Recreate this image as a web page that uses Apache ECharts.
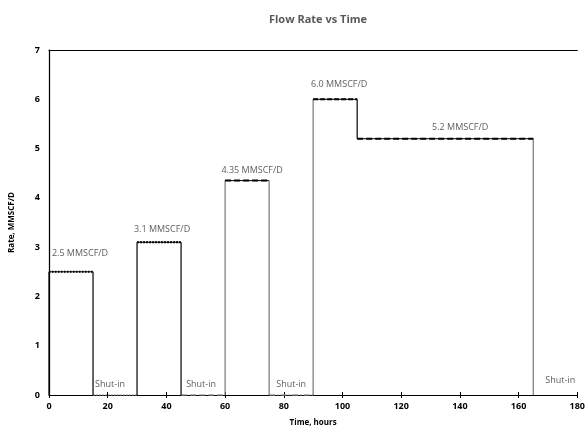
<!DOCTYPE html>
<html>
<head>
<meta charset="utf-8">
<script src="https://cdn.jsdelivr.net/npm/echarts@6/dist/echarts.min.js"></script>
<style>html,body{margin:0;padding:0;background:#fff}#c{width:588px;height:436px}</style>
</head>
<body>
<div id="c"></div>
<script>
// Flow periods (hours) and rates (MMSCF/D)
const flowStart = [0, 30, 60, 90, 105];
const flowEnd = [15, 45, 75, 105, 165];
const flowRate = [2.5, 3.1, 4.35, 6.0, 5.2];
const flowLabels = ['2.5 MMSCF/D', '3.1 MMSCF/D', '4.35 MMSCF/D', '6.0 MMSCF/D', '5.2 MMSCF/D'];
// Shut-in periods (hours)
const shutStart = [15, 45, 75, 165];
const shutEnd = [30, 60, 90, 180];
const shutLabel = 'Shut-in';
const xTicks = [0, 20, 40, 60, 80, 100, 120, 140, 160, 180];
const yTicks = [0, 1, 2, 3, 4, 5, 6, 7];

const font = 'Open Sans';
const series = [];
// styling per flow period
const topDash = [[1.5, 1.5], [2, 1], [6, 3], [5, 2], [6, 3]];
const leftVColor = ['#000', '#000', '#777', '#777', '#000'];
const rightVColor = ['#000', '#000', '#777', '#000', '#777'];
const flowLabelOffset = [[9, 0], [3, 0], [5, 0], [4, 0], [15, 0]];
const flowLabelDist = [14, 8, 6, 10, 7];
const shutLabelOffset = [[-5, 0], [-2, 0], [0, 0], [5, 0]];
const shutLabelDist = [6, 6, 6, 10];

for (let i = 0; i < flowRate.length; i++) {
  const s = flowStart[i], e = flowEnd[i], r = flowRate[i];
  const prev = i > 0 && flowEnd[i - 1] === s ? flowRate[i - 1] : 0;
  const joinsNext = i < flowRate.length - 1 && flowStart[i + 1] === e;
  series.push({type: 'line', data: [[s, prev], [s, r]], symbol: 'none', silent: true, clip: false,
    lineStyle: {color: leftVColor[i], width: 1.2}, z: 3});
  series.push({type: 'line', data: [[s, r], [e, r]], symbol: 'none', silent: true, clip: false,
    lineStyle: {color: '#000', width: 1}, z: 3});
  series.push({type: 'line', data: [[s, r], [e, r]], symbol: 'none', silent: true, clip: false,
    lineStyle: {color: '#000', width: 2, type: topDash[i]}, z: 4});
  if (!joinsNext) {
    series.push({type: 'line', data: [[e, r], [e, 0]], symbol: 'none', silent: true, clip: false,
      lineStyle: {color: rightVColor[i], width: 1.2}, z: 3});
  }
}
// shut-in baseline dashes
const shutDash = [[1.5, 1.5], [6, 3], [6, 2, 1.5, 2], null];
for (let i = 0; i < shutStart.length; i++) {
  if (!shutDash[i]) continue;
  series.push({type: 'line', data: [[shutStart[i], 0], [shutEnd[i], 0]], symbol: 'none', silent: true,
    lineStyle: {color: '#999', width: 1.5, type: shutDash[i]}, z: 1});
}
// flow labels
series.push({type: 'scatter', symbolSize: 0, silent: true, z: 5,
  data: flowRate.map((r, i) => ({value: [(flowStart[i] + flowEnd[i]) / 2, r], name: flowLabels[i],
    label: {offset: flowLabelOffset[i], distance: flowLabelDist[i]}})),
  label: {show: true, position: 'top', formatter: p => p.name,
    color: '#333', fontSize: 9, fontFamily: font}
});
// shut-in labels
series.push({type: 'scatter', symbolSize: 0, silent: true, z: 5,
  data: shutStart.map((s, i) => ({value: [(s + shutEnd[i]) / 2, 0], name: shutLabel,
    label: {offset: shutLabelOffset[i], distance: shutLabelDist[i]}})),
  label: {show: true, position: 'top', formatter: p => p.name,
    color: '#333', fontSize: 9, fontFamily: font}
});

const chart = echarts.init(document.getElementById('c'), null, {renderer: 'canvas'});
chart.setOption({
  animation: false,
  backgroundColor: '#fff',
  title: {text: 'Flow Rate vs Time', left: 313, textAlign: 'center', top: 9,
    textStyle: {fontSize: 11, fontWeight: 'bold', color: '#595959', fontFamily: font}},
  grid: {left: 47, right: 6, top: 50, bottom: 41},
  xAxis: [
    {type: 'value', min: 0, max: 180, interval: 20, position: 'bottom',
      name: 'Time, hours', nameLocation: 'middle', nameGap: 24,
      nameTextStyle: {fontSize: 8, fontWeight: 'bold', color: '#000', fontFamily: font},
      axisLine: {lineStyle: {color: '#000', width: 1.2}},
      axisTick: {show: true, length: 3, lineStyle: {color: '#000'}},
      axisLabel: {fontSize: 9, fontWeight: 'bold', color: '#000', margin: 7, fontFamily: font,
        formatter: v => xTicks.includes(v) ? String(v) : ''},
      splitLine: {show: false}},
    {type: 'value', min: 0, max: 180, interval: 20, position: 'bottom', gridIndex: 0,
      axisLine: {show: false},
      axisTick: {show: true, inside: true, length: 3, lineStyle: {color: '#000'}},
      axisLabel: {show: false}, splitLine: {show: false}},
    {type: 'value', min: 0, max: 180, position: 'top',
      axisLine: {show: true, lineStyle: {color: '#000', width: 1.2}},
      axisTick: {show: false}, axisLabel: {show: false}, splitLine: {show: false}}
  ],
  yAxis: [
    {type: 'value', min: 0, max: 7, interval: 1,
      name: 'Rate, MMSCF/D', nameLocation: 'middle', nameGap: 33,
      nameTextStyle: {fontSize: 8, fontWeight: 'bold', color: '#000', fontFamily: font},
      axisLine: {show: true, lineStyle: {color: '#aaa', width: 1.2}},
      axisTick: {show: false},
      axisLabel: {fontSize: 9, fontWeight: 'bold', color: '#000', margin: 9, fontFamily: font,
        formatter: v => yTicks.includes(v) ? String(v) : ''},
      splitLine: {show: false}},
    {type: 'value', min: 0, max: 7, position: 'right',
      axisLine: {show: true, lineStyle: {color: '#000', width: 1.2}},
      axisTick: {show: false}, axisLabel: {show: false}, splitLine: {show: false}}
  ],
  series: series
});
</script>
</body>
</html>
